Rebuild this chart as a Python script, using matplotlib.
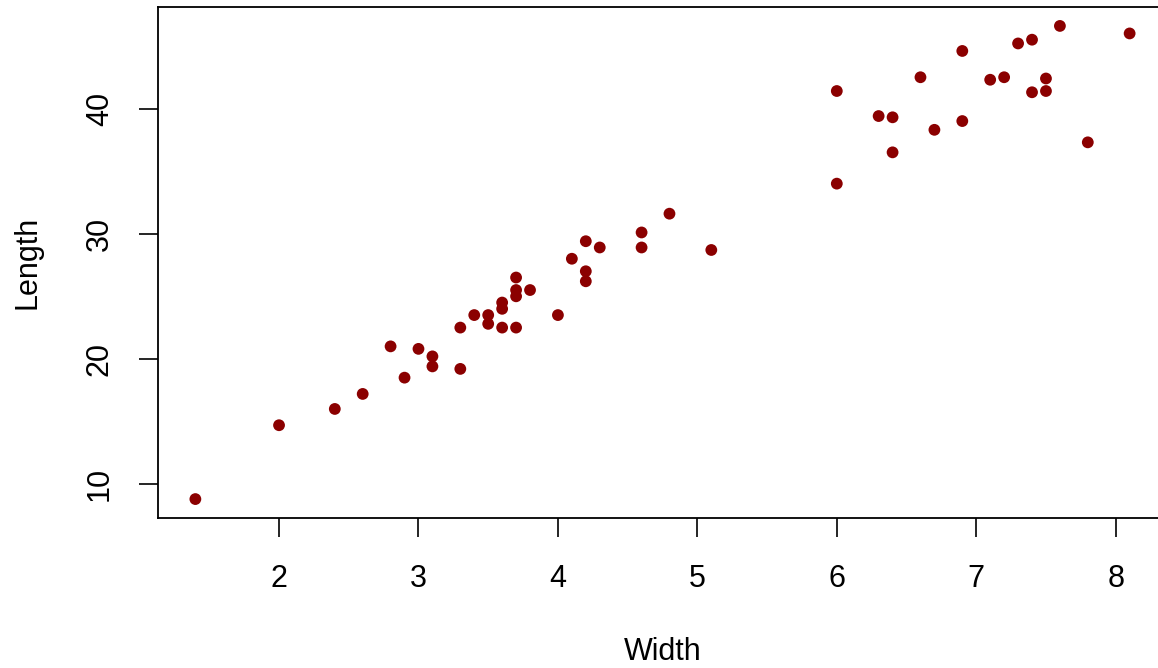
import matplotlib
matplotlib.use('Agg')
import matplotlib.pyplot as plt

# Data
width = [1.4, 2.0, 2.4, 2.6, 2.8, 2.9, 3.0, 3.1, 3.1, 3.3, 3.3, 3.4, 3.5, 3.5,
         3.6, 3.6, 3.6, 3.7, 3.7, 3.7, 3.7, 3.8, 4.0, 4.1, 4.2, 4.2, 4.2, 4.3,
         4.6, 4.6, 4.8, 5.1, 6.0, 6.0, 6.3, 6.4, 6.4, 6.6, 6.7, 6.9, 6.9, 7.1,
         7.2, 7.3, 7.4, 7.4, 7.5, 7.5, 7.6, 7.8, 8.1]
length = [8.8, 14.7, 16.0, 17.2, 21.0, 18.5, 20.8, 20.2, 19.4, 22.5, 19.2, 23.5, 23.5, 22.8,
          24.5, 24.0, 22.5, 26.5, 25.5, 25.0, 22.5, 25.5, 23.5, 28.0, 29.4, 27.0, 26.2, 28.9,
          30.1, 28.9, 31.6, 28.7, 41.4, 34.0, 39.4, 39.3, 36.5, 42.5, 38.3, 44.6, 39.0, 42.3,
          42.5, 45.2, 45.5, 41.3, 42.4, 41.4, 46.6, 37.3, 46.0]
x_ticks = [2, 3, 4, 5, 6, 7, 8]
y_ticks = [10, 20, 30, 40]

plt.rcParams['font.family'] = ['Liberation Sans', 'DejaVu Sans']

fig = plt.figure(figsize=(11.58, 6.68), dpi=100)
# axes extends a little past the right edge, like the cropped original
ax = fig.add_axes([158 / 1158, 150 / 668, 1009 / 1158, 511 / 668])

ax.scatter(width, length, s=72, color='#8B0000', edgecolors='none', zorder=3)

# R style 4% padding
xr = max(width) - min(width)
yr = max(length) - min(length)
ax.set_xlim(min(width) - 0.04 * xr, max(width) + 0.04 * xr)
ax.set_ylim(min(length) - 0.04 * yr, max(length) + 0.04 * yr)

ax.set_xticks(x_ticks)
ax.set_yticks(y_ticks)
ax.tick_params(axis='both', direction='out', length=14, width=1.2, labelsize=22, color='black')
ax.tick_params(axis='x', pad=19)
ax.tick_params(axis='y', pad=17)
for lab in ax.get_yticklabels():
    lab.set_rotation(90)
    lab.set_va('center')

for sp in ax.spines.values():
    sp.set_linewidth(1.3)
    sp.set_color('black')

ax.set_xlabel('Width', fontsize=22)
ax.set_ylabel('Length', fontsize=22)
ax.xaxis.set_label_coords(0.5, -0.262)
ax.xaxis.label.set_va('center')
ax.yaxis.set_label_coords(-0.1298, 0.501)
ax.yaxis.label.set_va('center')

plt.savefig('out.png', dpi=100)
plt.close()
